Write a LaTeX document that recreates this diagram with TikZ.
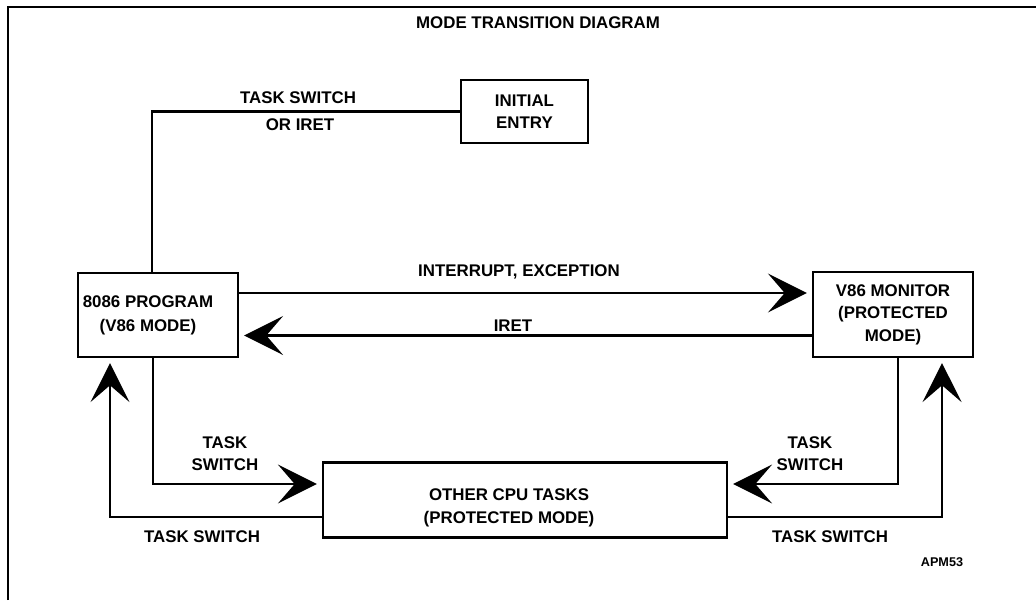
\documentclass[tikz,border=0pt]{standalone}
\usepackage{fontspec}
\setmainfont{Liberation Sans}
\usetikzlibrary{arrows.meta, positioning, calc}

\begin{document}
\begin{tikzpicture}[x=0.025cm, y=-0.025cm,
  box/.style={draw, line width=1.5pt, inner sep=0pt, align=center, font=\fontsize{12}{16}\selectfont\bfseries},
  boxtxt/.style={inner sep=0pt, align=center, font=\fontsize{12}{17}\selectfont\bfseries},
  lbl/.style={inner sep=0pt, align=center, font=\fontsize{12}{15.5}\selectfont\bfseries},
  flow/.style={line width=1.5pt, -{Stealth[length=0.975cm, width=0.975cm, inset=0.42cm]}, shorten >=0.125cm}]
  \useasboundingbox (0,0) rectangle (1036,600);
  \draw[line width=1.5pt] (8,600) -- (8,7) -- (1040,7);
  \node[lbl] (title) at (538,23) {MODE TRANSITION DIAGRAM};

  \node[box, minimum width=3.175cm, minimum height=1.575cm] (init) at (524.5,111.5) {INITIAL\\ENTRY};
  \node[box, minimum width=4cm, minimum height=2.1cm,
    label={[boxtxt, xshift=-0.25cm]center:{8086 PROGRAM\\(V86 MODE)}}] (prog) at (158,315) {};
  \node[box, minimum width=4cm, minimum height=2.125cm] (mon) at (893,314.5) {V86 MONITOR\\(PROTECTED\\MODE)};
  \node[box, minimum width=10.1cm, minimum height=1.875cm,
    label={[boxtxt, font=\fontsize{12}{16}\selectfont\bfseries, xshift=-0.4cm, yshift=-0.2cm]center:{OTHER CPU TASKS\\(PROTECTED MODE)}}] (other) at (525,500) {};

  % connectors
  \draw[line width=1.5pt] (init.west) -| ([xshift=-0.15cm]prog.north);
  \draw[flow] ([yshift=0.55cm]prog.east) -- ([yshift=0.55cm]prog.east -| mon.west);
  \draw[flow] ([yshift=-0.525cm]mon.west) -- ([yshift=-0.525cm]mon.west -| prog.east);
  \draw[flow] ([xshift=-0.125cm]prog.south) |- ([yshift=0.4cm]other.west);
  \draw[flow] ([yshift=-0.425cm]other.west) -| ([xshift=-1.2cm]prog.south);
  \draw[flow] ([xshift=0.125cm]mon.south) |- ([yshift=0.4cm]other.east);
  \draw[flow] ([yshift=-0.425cm]other.east) -| ([xshift=1.225cm]mon.south);

  % labels
  \node[lbl] (l-init) at (298,98) {TASK SWITCH};
  \node[lbl] (l-iret0) at (300,125) {OR IRET};
  \node[lbl] (l-int) at (519,272) {INTERRUPT, EXCEPTION};
  \node[lbl] (l-iret) at (513,326) {IRET};
  \node[lbl] (l-ts1) at (225,453.5) {TASK\\SWITCH};
  \node[lbl] (l-ts2) at (810,453.5) {TASK\\SWITCH};
  \node[lbl] (l-ts3) at (202,537) {TASK SWITCH};
  \node[lbl] (l-ts4) at (830,537) {TASK SWITCH};
  \node[lbl, font=\fontsize{9}{11}\selectfont\bfseries] (apm) at (942,562) {APM53};
\end{tikzpicture}
\end{document}
